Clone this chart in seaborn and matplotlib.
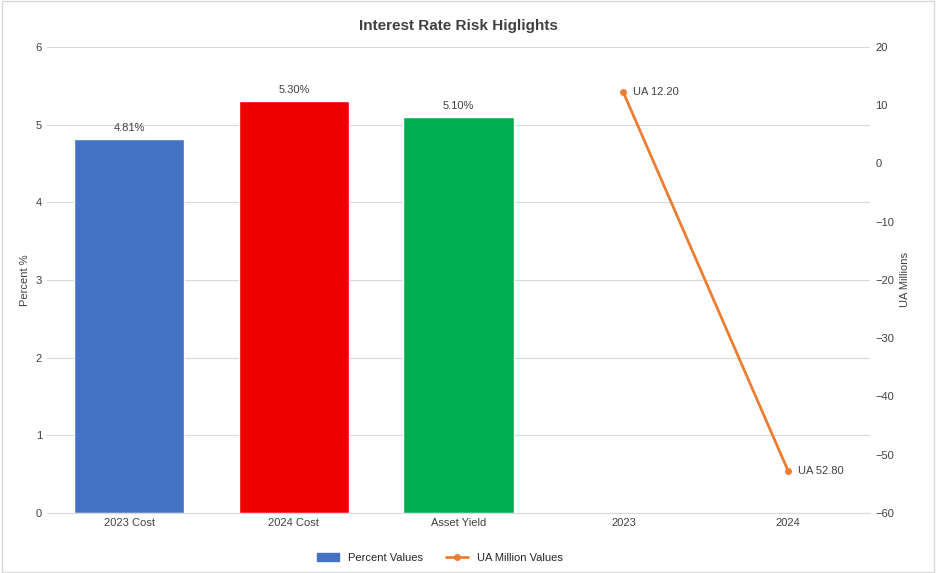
import matplotlib
matplotlib.use("Agg")
import matplotlib.pyplot as plt
import seaborn as sns
import pandas as pd

categories = ["2023 Cost", "2024 Cost", "Asset Yield", "2023", "2024"]
bar_labels = ["2023 Cost", "2024 Cost", "Asset Yield"]
percent_values = [4.81, 5.30, 5.10]
bar_colors = ["#4472C4", "#EE0000", "#00B050"]
line_labels = ["2023", "2024"]
ua_values = [12.2, -52.8]
ua_text = ["UA 12.20", "UA 52.80"]

sns.set_style("white")
plt.rcParams['font.family'] = ['Liberation Sans', 'DejaVu Sans']

fig, ax = plt.subplots(figsize=(9.36, 5.73), dpi=100)
fig.subplots_adjust(left=0.05, right=0.93, top=0.918, bottom=0.105)

bars = pd.DataFrame({"x": [0, 1, 2], "y": percent_values, "c": bar_labels})
sns.barplot(data=bars, x="x", y="y", hue="c", palette=bar_colors, width=0.67,
            native_scale=True, legend=False, ax=ax, saturation=1)
for i, v in enumerate(percent_values):
    ax.text(i, v + 0.08, f"{v:.2f}%", ha="center", va="bottom", fontsize=8, color="#404040")

ax.set_xlim(-0.5, 4.5)
ax.set_ylim(0, 6)
ax.set_xticks(range(len(categories)))
ax.set_xticklabels(categories, fontsize=8, color="#404040")
ax.tick_params(axis="y", labelsize=8, colors="#404040", length=0)
ax.tick_params(axis="x", length=0)
ax.yaxis.grid(True, color="#D9D9D9", linewidth=0.8)
ax.set_axisbelow(True)
ax.set_xlabel("")
ax.set_ylabel("Percent %", fontsize=8, color="#404040")
for s in ax.spines.values():
    s.set_visible(False)
ax.spines["bottom"].set_visible(True)
ax.spines["bottom"].set_color("#D9D9D9")

ax2 = ax.twinx()
line = pd.DataFrame({"x": [3, 4], "y": ua_values})
sns.lineplot(data=line, x="x", y="y", color="#ED7D31", marker="o", markersize=5,
             markeredgewidth=0, linewidth=2, ax=ax2)
for x, v, t in zip([3, 4], ua_values, ua_text):
    ax2.text(x + 0.06, v, t, ha="left", va="center", fontsize=8, color="#404040")
ax2.set_ylim(-60, 20)
ax2.set_xlim(-0.5, 4.5)
ax2.set_ylabel("UA Millions", fontsize=8, color="#404040")
ax2.tick_params(axis="y", labelsize=8, colors="#404040", length=0)
ax2.set_yticks(range(-60, 21, 10))
for s in ax2.spines.values():
    s.set_visible(False)

ax.set_title("Interest Rate Risk Higlights", fontsize=11, fontweight="bold", color="#404040", pad=12)

from matplotlib.patches import Patch
from matplotlib.lines import Line2D
handles = [Patch(color="#4472C4"),
           Line2D([], [], color="#ED7D31", marker="o", markersize=4, linewidth=2)]
fig.legend(handles, ["Percent Values", "UA Million Values"], loc="lower center",
           ncol=2, frameon=False, fontsize=8, bbox_to_anchor=(0.47, 0.0))
fig.patches.append(plt.Rectangle((0.002, 0.002), 0.996, 0.996, transform=fig.transFigure,
                                 fill=False, edgecolor="#D9D9D9", linewidth=1))
fig.savefig("out.png", dpi=100)
